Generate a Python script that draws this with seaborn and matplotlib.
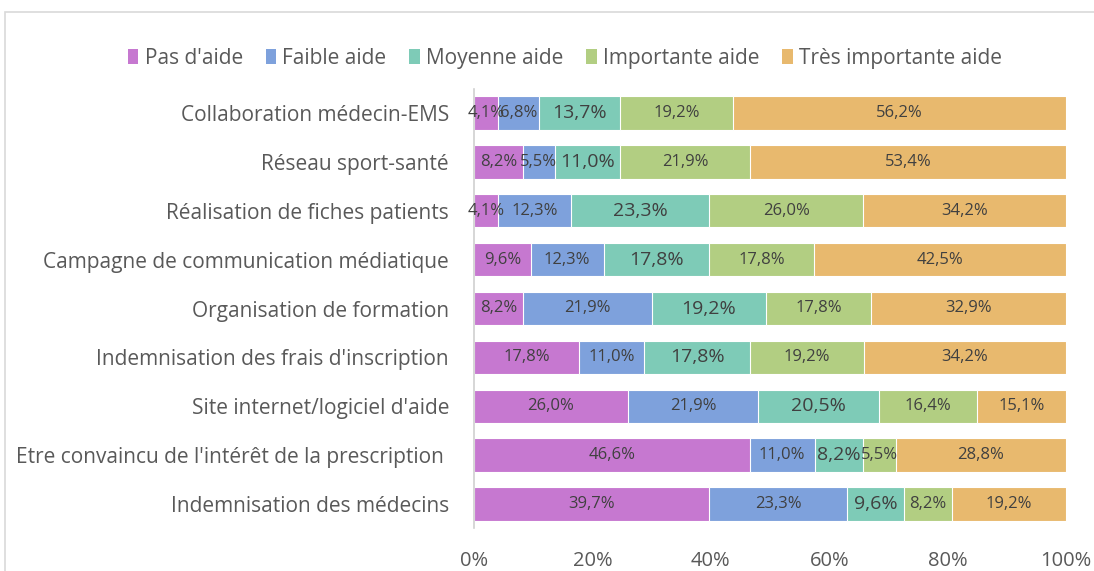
import numpy as np
import pandas as pd
import seaborn as sns
import matplotlib.pyplot as plt
from matplotlib.patches import Rectangle, Patch

# categories, top to bottom
categories = ["Collaboration médecin-EMS", "Réseau sport-santé",
              "Réalisation de fiches patients", "Campagne de communication médiatique",
              "Organisation de formation", "Indemnisation des frais d'inscription",
              "Site internet/logiciel d'aide",
              "Etre convaincu de l'intérêt de la prescription ",
              "Indemnisation des médecins"]
series = ["Pas d'aide", "Faible aide", "Moyenne aide", "Importante aide", "Très importante aide"]
pas_aide = [4.1, 8.2, 4.1, 9.6, 8.2, 17.8, 26.0, 46.6, 39.7]
faible_aide = [6.8, 5.5, 12.3, 12.3, 21.9, 11.0, 21.9, 11.0, 23.3]
moyenne_aide = [13.7, 11.0, 23.3, 17.8, 19.2, 17.8, 20.5, 8.2, 9.6]
importante_aide = [19.2, 21.9, 26.0, 17.8, 17.8, 19.2, 16.4, 5.5, 8.2]
tres_importante_aide = [56.2, 53.4, 34.2, 42.5, 32.9, 34.2, 15.1, 28.8, 19.2]
colors = ["#C678D0", "#7EA1DC", "#7ECBB7", "#B2CE82", "#E8B96E"]

sns.set_style("white")
plt.rcParams['font.family'] = ['Open Sans', 'DejaVu Sans']

vals = np.array([pas_aide, faible_aide, moyenne_aide, importante_aide, tres_importante_aide])
# 100% stacked: normalise each bar
shares = vals / vals.sum(axis=0) * 100
cum = shares.cumsum(axis=0)

fig = plt.figure(figsize=(10.94, 5.71), dpi=100)
ax = fig.add_axes([474/1094, 1-528.4/571, 592/1094, 439.8/571])

# draw the cumulative bars from the longest to the shortest so they overlap as a stack
for i in range(len(series)-1, -1, -1):
    df = pd.DataFrame({'cat': categories, 'val': cum[i]})
    sns.barplot(data=df, x='val', y='cat', color=colors[i], saturation=1,
                width=0.68, edgecolor='white', linewidth=0.8, ax=ax)

# value labels
for i in range(len(series)):
    for j in range(len(categories)):
        xc = cum[i][j] - shares[i][j]/2
        fs = 14 if i == 2 else 12
        ax.text(xc, j, ('%.1f%%' % vals[i][j]).replace('.', ','), ha='center', va='center',
                fontsize=fs, color='#404040')

ax.set_xlim(0, 100)
ax.set_ylim(8.5, -0.5)
ax.set_xticks([0, 20, 40, 60, 80, 100])
ax.set_xticklabels(['0%', '20%', '40%', '60%', '80%', '100%'])
ax.set_xlabel('')
ax.set_ylabel('')
ax.tick_params(axis='x', length=0, pad=16, labelsize=14.5, labelcolor='#595959')
ax.tick_params(axis='y', length=0, pad=18, labelsize=15, labelcolor='#595959')
for s in ['top', 'right', 'bottom']:
    ax.spines[s].set_visible(False)
ax.spines['left'].set_color('#D0D0D0')
ax.spines['left'].set_linewidth(1.2)

# legend
handles = [Patch(facecolor=c, edgecolor='none') for c in colors]
fig.legend(handles, series, loc='center', bbox_to_anchor=(565/1094, 1-58/571), ncol=5,
           frameon=False, fontsize=15, handlelength=0.5, handleheight=0.7,
           handletextpad=0.3, columnspacing=1.1, labelcolor='#595959')

# chart frame
fig.patches.append(Rectangle((5/1094, -0.1), 1.2, 1.1-12/571, transform=fig.transFigure,
                             fill=False, edgecolor='#D9D9D9', linewidth=1.2))

fig.savefig('out.png', dpi=100)
